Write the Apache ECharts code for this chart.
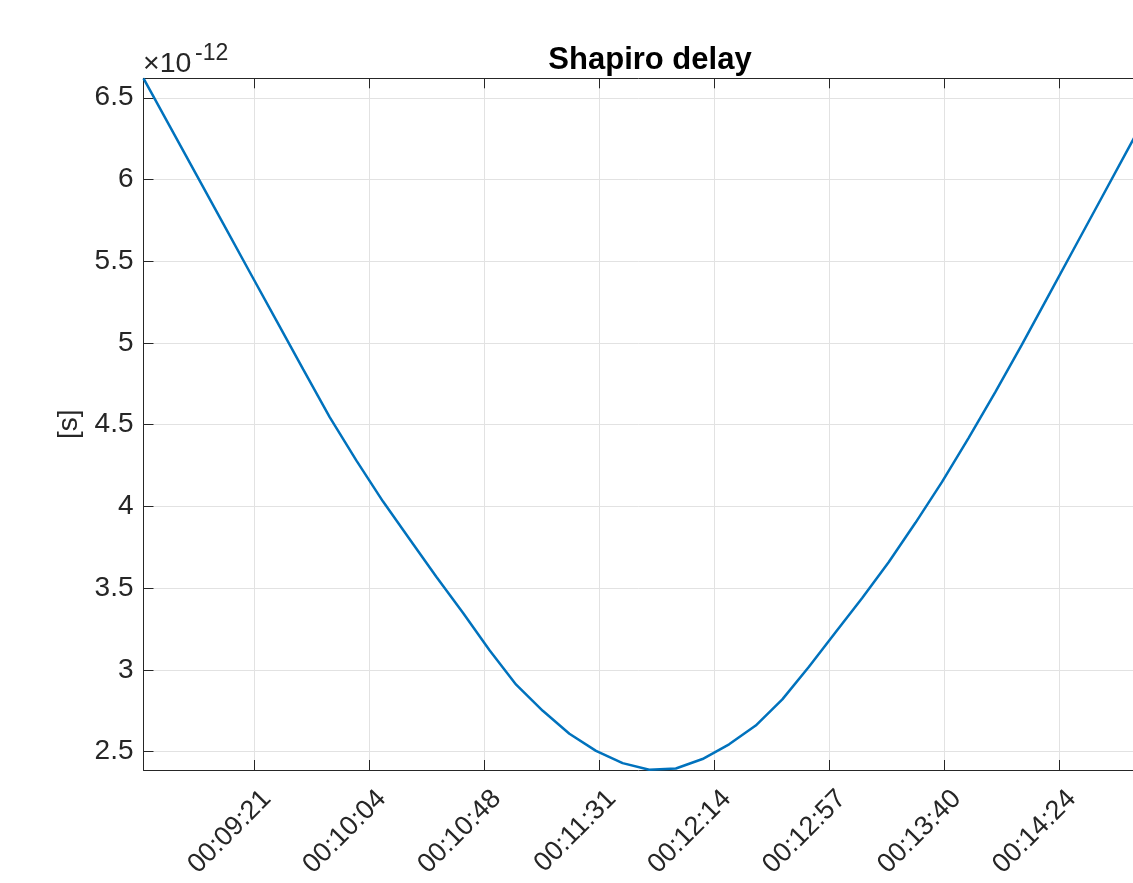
<!DOCTYPE html>
<html>
<head>
<meta charset="utf-8">
<script src="https://cdn.jsdelivr.net/npm/echarts@6/dist/echarts.min.js"></script>
<style>
html,body{margin:0;padding:0;background:#fff;}
#chart{width:1133px;height:883px;}
</style>
</head>
<body>
<div id="chart"></div>
<script>
// time since start of day, seconds (sampled every 10 s)
const times = [520,530,540,550,560,570,580,590,600,610,620,630,640,650,660,670,680,690,700,710,
               720,730,740,750,760,770,780,790,800,810,820,830,840,850,860,870,880,890,900];
// Shapiro delay in units of 1e-12 s
const delayE12 = [6.619,6.322,6.025,5.728,5.431,5.135,4.838,4.545,4.28,4.03,
                  3.80,3.57,3.35,3.12,2.91,2.75,2.61,2.505,2.43,2.39,
                  2.397,2.455,2.545,2.66,2.82,3.02,3.23,3.44,3.66,3.90,
                  4.15,4.42,4.70,4.99,5.29,5.59,5.89,6.19,6.49];
// x tick positions (seconds) and their labels
const xTickValues = [561.6,604.8,648,691.2,734.4,777.6,820.8,864];
const xTickLabels = ['00:09:21','00:10:04','00:10:48','00:11:31','00:12:14','00:12:57','00:13:40','00:14:24'];
const yTickValues = [2.5,3,3.5,4,4.5,5,5.5,6,6.5];
const yTickLabels = ['2.5','3','3.5','4','4.5','5','5.5','6','6.5'];

const FONT = 'Liberation Sans, Arial, Helvetica, sans-serif';
const AX = '#262626';
const GRID = '#e2e2e2';

function xLabel(v){
  const i = xTickValues.findIndex(t => Math.abs(t - v) < 1e-6);
  return i >= 0 ? xTickLabels[i] : '';
}
function yLabel(v){
  const i = yTickValues.findIndex(t => Math.abs(t - v) < 1e-9);
  return i >= 0 ? yTickLabels[i] : '';
}

const chart = echarts.init(document.getElementById('chart'));
const xMin = times[0], xMax = times[times.length-1];
const yMin = 2.388, yMax = Math.max(...delayE12);

chart.setOption({
  animation: false,
  backgroundColor: '#ffffff',
  title: {
    text: 'Shapiro delay',
    left: 645, top: 40, textAlign: 'center',
    textStyle: {fontFamily: FONT, fontSize: 31, fontWeight: 'bold', color: '#000'}
  },
  grid: {left: 143.5, top: 78.3, width: 1011.5, height: 691.7, containLabel: false, outerBoundsMode: 'none'},
  xAxis: [{
    type: 'value', min: xMin, max: xMax, position: 'bottom',
    axisLine: {show: true, onZero: false, lineStyle: {color: AX, width: 1}},
    axisTick: {show: true, inside: true, length: 10, customValues: xTickValues, lineStyle: {color: AX}},
    axisLabel: {show: true, customValues: xTickValues, rotate: 45, margin: 12,
      align: 'right', verticalAlign: 'top', lineHeight: 36,
      fontFamily: FONT, fontSize: 27, color: AX, formatter: xLabel},
    splitLine: {show: true, lineStyle: {color: GRID, width: 1}}
  },{
    type: 'value', min: xMin, max: xMax, position: 'top',
    axisLine: {show: true, onZero: false, lineStyle: {color: AX, width: 1}},
    axisTick: {show: true, inside: true, length: 10, customValues: xTickValues, lineStyle: {color: AX}},
    axisLabel: {show: false},
    splitLine: {show: false}
  }],
  yAxis: [{
    type: 'value', min: yMin, max: yMax, position: 'left',
    name: '[s]', nameLocation: 'middle', nameGap: 58.5, nameRotate: 90,
    nameTextStyle: {fontFamily: FONT, fontSize: 28, color: AX},
    axisLine: {show: true, onZero: false, lineStyle: {color: AX, width: 1}},
    axisTick: {show: true, inside: true, length: 10, customValues: yTickValues, lineStyle: {color: AX}},
    axisLabel: {show: true, customValues: yTickValues, margin: 10,
      fontFamily: FONT, fontSize: 28, color: AX, formatter: yLabel},
    splitLine: {show: true, lineStyle: {color: GRID, width: 1}}
  },{
    type: 'value', min: yMin, max: yMax, position: 'right',
    axisLine: {show: true, onZero: false, lineStyle: {color: AX, width: 1}},
    axisTick: {show: true, inside: true, length: 10, customValues: yTickValues, lineStyle: {color: AX}},
    axisLabel: {show: false}, splitLine: {show: false}
  }],
  graphic: [
    {type: 'text', left: 143, top: 49.5, style: {text: '\u00d710', fontFamily: FONT, fontSize: 28.5, fill: AX}},
    {type: 'text', left: 195, top: 42, style: {text: '-12', fontFamily: FONT, fontSize: 23, fill: AX}}
  ],
  series: [{
    type: 'line', xAxisIndex: 0, yAxisIndex: 0,
    data: times.map((t, i) => [t, delayE12[i]]),
    showSymbol: false, symbol: 'none',
    lineStyle: {color: '#0072BD', width: 2.5},
    clip: true
  }]
});
</script>
</body>
</html>
